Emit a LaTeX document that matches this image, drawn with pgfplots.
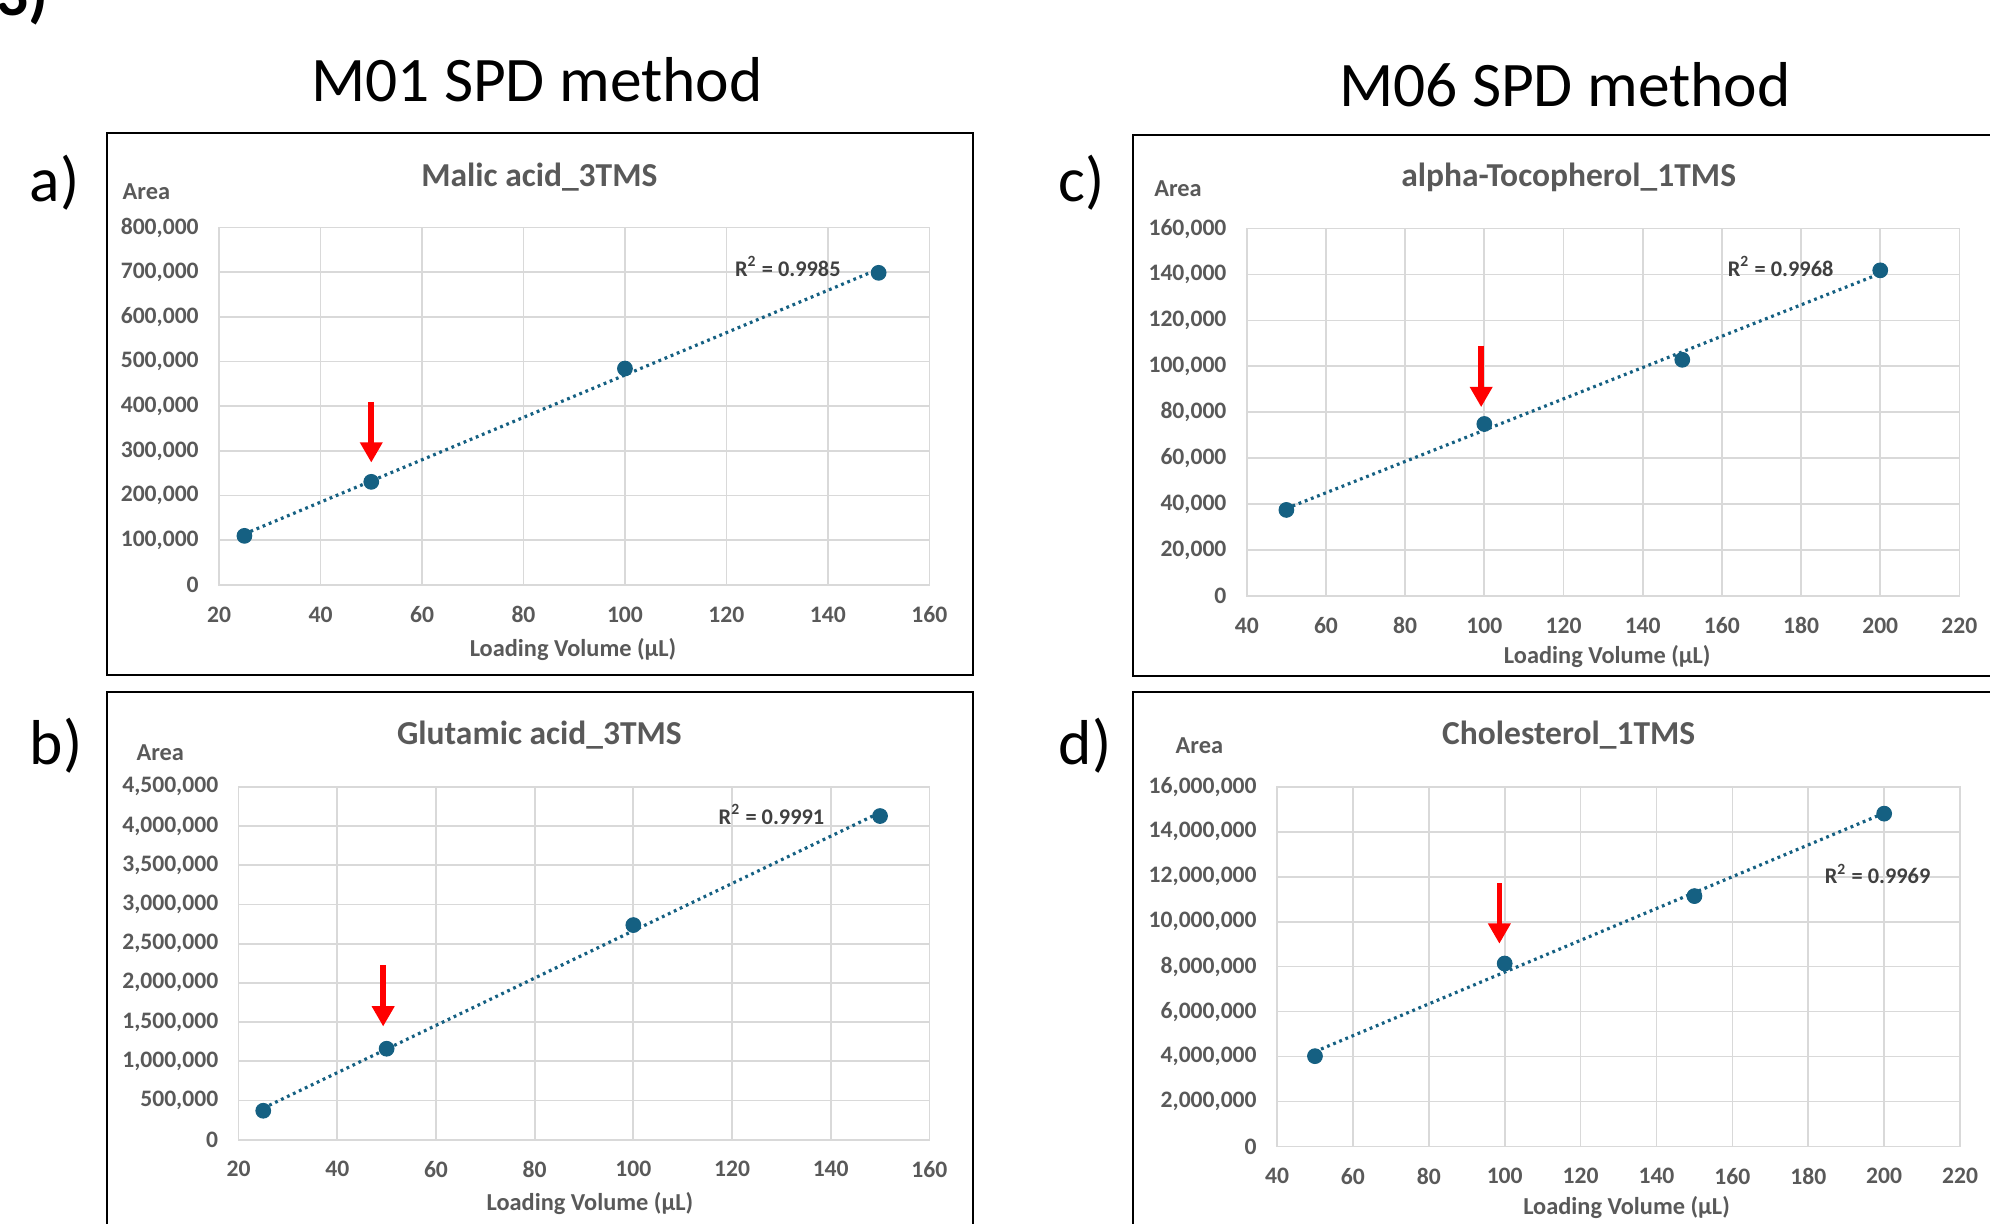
\documentclass[border=0pt]{standalone}
\usepackage{fontspec}
\setmainfont{Carlito}
\usepackage{pgfplots}
\pgfplotsset{compat=1.18}
\usetikzlibrary{arrows.meta}

\definecolor{ptblue}{HTML}{156082}
\definecolor{txtgray}{HTML}{595959}
\definecolor{gridgray}{HTML}{D9D9D9}
\definecolor{rgray}{HTML}{404040}

\pgfplotsset{
  xlchart/.style={
    scale only axis, anchor=north west,
    axis line style={draw=gridgray, line width=0.7pt},
    grid=major, grid style={draw=gridgray, line width=0.7pt},
    major tick length=0pt,
    tick label style={font=\fontsize{9.3}{10}\selectfont\bfseries, text=txtgray},
    yticklabel style={xshift=-4.5pt},
    xticklabel style={yshift=-5pt},
    scaled y ticks=false,
    /pgf/number format/fixed,
    /pgf/number format/1000 sep={,},
    /pgf/number format/assume math mode=true,
  },
  pts/.style={only marks, mark=*, mark size=2.9pt, mark options={draw=ptblue, fill=ptblue}},
  trend/.style={ptblue, line width=1.25pt, dash pattern=on 1.1pt off 1.5pt, mark=none},
}
\tikzset{
  r2/.style={font=\fontsize{8.8}{10}\selectfont\bfseries, text=rgray, anchor=east, inner sep=0pt},
  redarrow/.style={draw=red, line width=2.2pt, -{Triangle[width=8.5pt, length=8pt]}},
}

\newcommand{\bigfont}{\fontsize{25}{30}\selectfont}
\newcommand{\titlefont}{\fontsize{13.2}{15}\selectfont\bfseries}
\newcommand{\labfont}{\fontsize{9.6}{11}\selectfont\bfseries}

\begin{document}
\begin{tikzpicture}[x=0.5pt, y=-0.5pt]
\useasboundingbox (0,0) rectangle (1568,964);

% headings and panel letters
\node[anchor=base west, inner sep=0pt, font=\bigfont\bfseries] at (-3,12) {3)};
\node[anchor=base, inner sep=0pt, font=\bigfont] at (423,80) {M01 SPD method};
\node[anchor=base, inner sep=0pt, font=\bigfont] at (1233,84) {M06 SPD method};
\node[anchor=base west, inner sep=0pt, font=\bigfont] at (23,159) {a)};
\node[anchor=base west, inner sep=0pt, font=\bigfont] at (23,602) {b)};
\node[anchor=base west, inner sep=0pt, font=\bigfont] at (834,159) {c)};
\node[anchor=base west, inner sep=0pt, font=\bigfont] at (834,602) {d)};

% chart frames
\draw[line width=0.8pt] (84,105) rectangle (767,532);
\draw[line width=0.8pt] (893,106) rectangle (1585,533);
\draw[line width=0.8pt] (84,545) rectangle (767,985);
\draw[line width=0.8pt] (893,545) rectangle (1585,985);

% chart titles and axis labels
\node[anchor=base, inner sep=0pt, font=\titlefont, text=txtgray] at (425,147) {Malic acid\_3TMS};
\node[anchor=base, inner sep=0pt, font=\titlefont, text=txtgray] at (1236,147) {alpha-Tocopherol\_1TMS};
\node[anchor=base, inner sep=0pt, font=\titlefont, text=txtgray] at (425,587) {Glutamic acid\_3TMS};
\node[anchor=base, inner sep=0pt, font=\titlefont, text=txtgray] at (1236,587) {Cholesterol\_1TMS};

\node[anchor=base, inner sep=0pt, font=\labfont, text=txtgray] at (115.3,157) {Area};
\node[anchor=base, inner sep=0pt, font=\labfont, text=txtgray] at (928.2,154.5) {Area};
\node[anchor=base, inner sep=0pt, font=\labfont, text=txtgray] at (126.3,599) {Area};
\node[anchor=base, inner sep=0pt, font=\labfont, text=txtgray] at (945,594) {Area};

\node[anchor=base, inner sep=0pt, font=\labfont, text=txtgray] at (451.5,517) {Loading Volume (µL)};
\node[anchor=base, inner sep=0pt, font=\labfont, text=txtgray] at (1266.4,523) {Loading Volume (µL)};
\node[anchor=base, inner sep=0pt, font=\labfont, text=txtgray] at (464.8,954) {Loading Volume (µL)};
\node[anchor=base, inner sep=0pt, font=\labfont, text=txtgray] at (1281.6,957) {Loading Volume (µL)};

\coordinate (pa) at (172.6,179.3);
\coordinate (pc) at (982.4,180.1);
\coordinate (pb) at (188,619.9);
\coordinate (pd) at (1006.2,619.9);

% a) Malic acid
\begin{axis}[xlchart, at={(pa)}, width=279.85pt, height=140.8pt,
  xmin=20, xmax=160, xtick distance=20,
  ymin=0, ymax=800000, ytick distance=100000]
\addplot[trend] coordinates {(25,114162) (150,707025)};
\addplot[pts] coordinates {(25,109900) (50,230800) (100,484400) (150,698700)};
\node[r2] at (axis cs:142.6,712800) {R\textsuperscript{2} = 0.9985};
\draw[redarrow] (axis cs:50,410000) -- (axis cs:50,273900);
\end{axis}

% c) alpha-Tocopherol
\begin{axis}[xlchart, at={(pc)}, width=280.75pt, height=144.7pt,
  xmin=40, xmax=220, xtick distance=20,
  ymin=0, ymax=160000, ytick distance=20000]
\addplot[trend] coordinates {(50,38082) (200,140403)};
\addplot[pts] coordinates {(50,37440) (100,74880) (150,102840) (200,141810)};
\node[r2] at (axis cs:188.3,143360) {R\textsuperscript{2} = 0.9968};
\draw[redarrow] (axis cs:99.2,108970) -- (axis cs:99.2,82210);
\end{axis}

% b) Glutamic acid
\begin{axis}[xlchart, at={(pb)}, width=272.15pt, height=139.05pt,
  xmin=20, xmax=160, xtick distance=20,
  ymin=0, ymax=4500000, ytick distance=500000]
\addplot[trend] coordinates {(25,401731) (150,4171106)};
\addplot[pts] coordinates {(25,369200) (50,1159700) (100,2736500) (150,4126400)};
\node[r2] at (axis cs:138.8,4149000) {R\textsuperscript{2} = 0.9991};
\draw[redarrow] (axis cs:49.3,2225000) -- (axis cs:49.3,1443000);
\end{axis}

% d) Cholesterol
\begin{axis}[xlchart, at={(pd)}, width=269.1pt, height=141.7pt,
  xmin=40, xmax=220, xtick distance=20,
  ymin=0, ymax=16000000, ytick distance=2000000]
\addplot[trend] coordinates {(50,4217900) (200,14827100)};
\addplot[pts] coordinates {(50,4015000) (100,8136000) (150,11136000) (200,14803000)};
\node[r2] at (axis cs:212.3,12121000) {R\textsuperscript{2} = 0.9969};
\draw[redarrow] (axis cs:98.6,11709000) -- (axis cs:98.6,9016000);
\end{axis}
\end{tikzpicture}
\end{document}
